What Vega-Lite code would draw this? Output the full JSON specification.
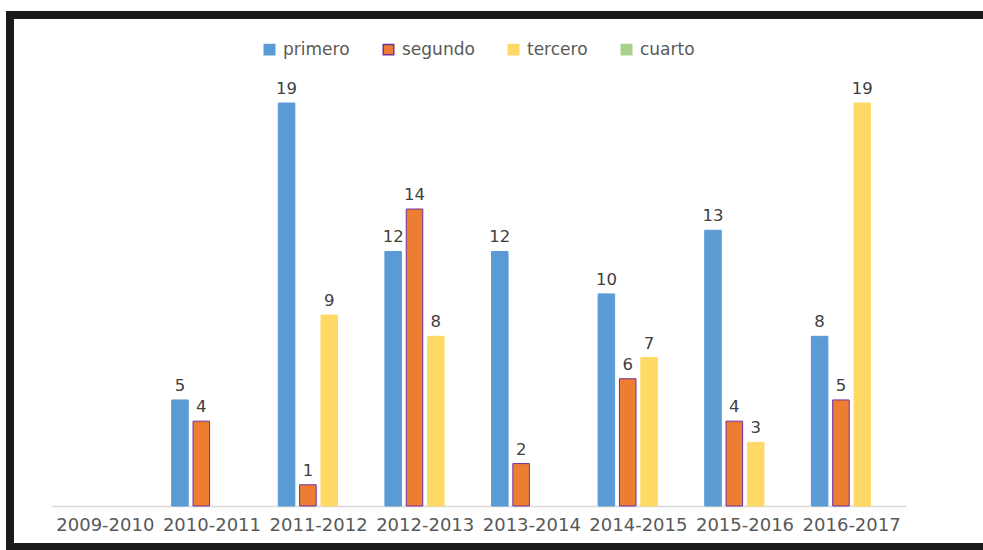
{
  "$schema": "https://vega.github.io/schema/vega-lite/v6.json",
  "autosize": {"type": "none"},
  "padding": {"left": 10, "top": 15, "right": -20, "bottom": 3},
  "width": 993,
  "height": 532,
  "background": "white",
  "config": {
    "view": {"stroke": "#1a1a1a", "strokeWidth": 8},
    "font": "DejaVu Sans"
  },
  "data": {
    "values": [
      {"periodo": "2010-2011", "serie": "primero", "valor": 5},
      {"periodo": "2010-2011", "serie": "segundo", "valor": 4},
      {"periodo": "2011-2012", "serie": "primero", "valor": 19},
      {"periodo": "2011-2012", "serie": "segundo", "valor": 1},
      {"periodo": "2011-2012", "serie": "tercero", "valor": 9},
      {"periodo": "2012-2013", "serie": "primero", "valor": 12},
      {"periodo": "2012-2013", "serie": "segundo", "valor": 14},
      {"periodo": "2012-2013", "serie": "tercero", "valor": 8},
      {"periodo": "2013-2014", "serie": "primero", "valor": 12},
      {"periodo": "2013-2014", "serie": "segundo", "valor": 2},
      {"periodo": "2014-2015", "serie": "primero", "valor": 10},
      {"periodo": "2014-2015", "serie": "segundo", "valor": 6},
      {"periodo": "2014-2015", "serie": "tercero", "valor": 7},
      {"periodo": "2015-2016", "serie": "primero", "valor": 13},
      {"periodo": "2015-2016", "serie": "segundo", "valor": 4},
      {"periodo": "2015-2016", "serie": "tercero", "valor": 3},
      {"periodo": "2016-2017", "serie": "primero", "valor": 8},
      {"periodo": "2016-2017", "serie": "segundo", "valor": 5},
      {"periodo": "2016-2017", "serie": "tercero", "valor": 19}
    ]
  },
  "encoding": {
    "x": {
      "field": "periodo",
      "type": "nominal",
      "title": null,
      "scale": {
        "domain": ["2009-2010", "2010-2011", "2011-2012", "2012-2013", "2013-2014", "2014-2015", "2015-2016", "2016-2017"],
        "range": [41, 896],
        "paddingInner": 0.2,
        "paddingOuter": 0.11
      },
      "axis": {
        "offset": -41,
        "labelAngle": 0,
        "labelFontSize": 18,
        "labelColor": "#595959",
        "labelPadding": 10,
        "labelOverlap": false,
        "labelFlush": false,
        "ticks": false,
        "tickSize": 0,
        "domainColor": "#d9d9d9",
        "domainWidth": 1.5,
        "grid": false
      }
    },
    "xOffset": {
      "field": "serie",
      "type": "nominal",
      "scale": {
        "domain": ["primero", "segundo", "tercero", "cuarto"],
        "paddingInner": 0.225,
        "paddingOuter": 0.11
      }
    },
    "y": {
      "field": "valor",
      "type": "quantitative",
      "scale": {"domain": [0, 19], "range": [491, 88], "nice": false, "zero": true},
      "axis": null
    }
  },
  "layer": [
    {
      "mark": {"type": "bar", "strokeWidth": 1},
      "encoding": {
        "color": {
          "field": "serie",
          "type": "nominal",
          "scale": {
            "domain": ["primero", "segundo", "tercero", "cuarto"],
            "range": ["#5B9BD5", "#ED7D31", "#FFD966", "#A9D18E"]
          },
          "legend": {
            "title": null,
            "orient": "none",
            "legendX": 251,
            "legendY": 26,
            "direction": "horizontal",
            "columns": 4,
            "labelFontSize": 17,
            "labelColor": "#595959",
            "symbolType": "square",
            "symbolSize": 110,
            "labelOffset": 5,
            "columnPadding": 30
          }
        },
        "stroke": {
          "field": "serie",
          "type": "nominal",
          "scale": {
            "domain": ["primero", "segundo", "tercero", "cuarto"],
            "range": ["#5B9BD5", "#7030A0", "#FFD966", "#A9D18E"]
          }
        }
      }
    },
    {
      "mark": {"type": "text", "baseline": "alphabetic", "dy": -9, "fontSize": 16.5, "color": "#404040"},
      "encoding": {
        "text": {"field": "valor", "type": "quantitative"}
      }
    }
  ]
}
